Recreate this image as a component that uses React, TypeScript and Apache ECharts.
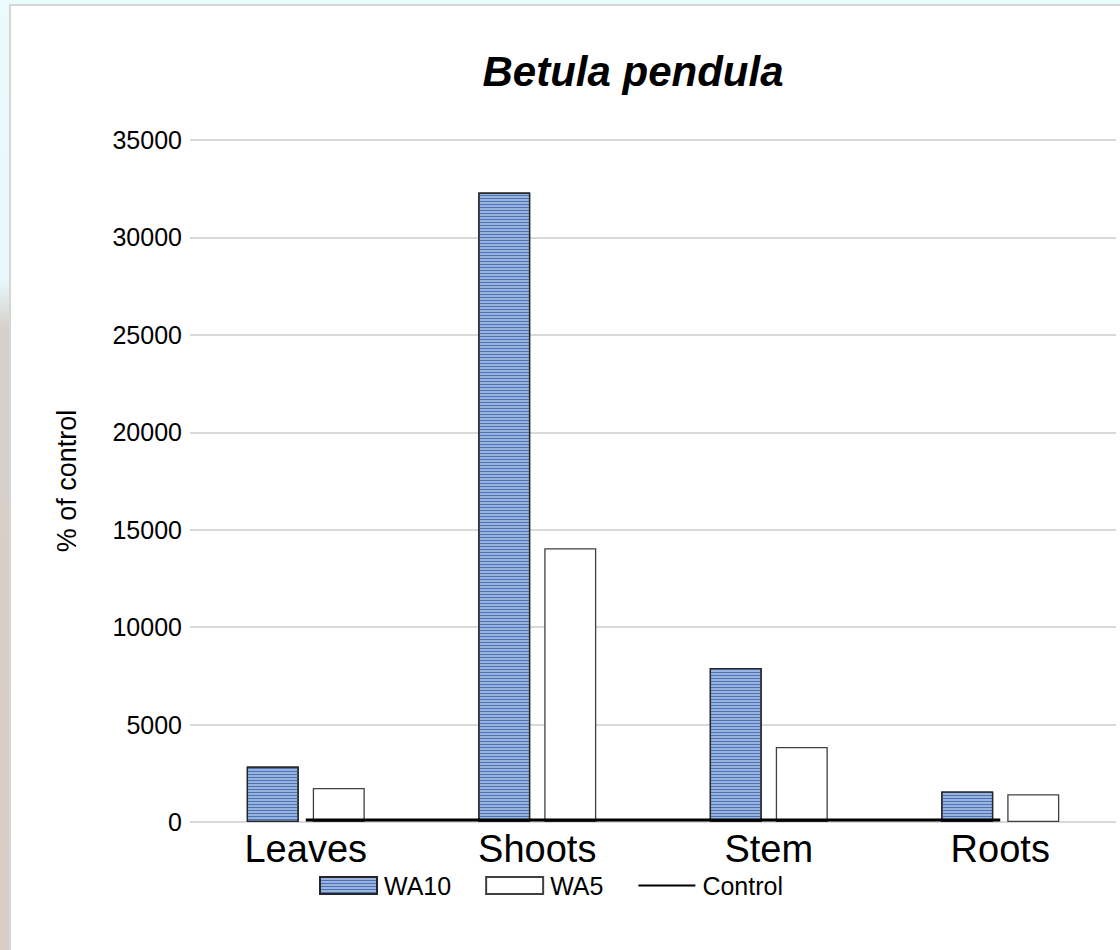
import React, { useEffect, useRef } from "react";
import * as echarts from "echarts";

const categories = ["Leaves", "Shoots", "Stem", "Roots"];
const wa10 = [2850, 32300, 7900, 1570];
const wa5 = [1750, 14050, 3850, 1430];
const control = [100, 100, 100, 100];
const yTicks = [0, 5000, 10000, 15000, 20000, 25000, 30000, 35000];
const chartTitle = "Betula pendula";

export default function App() {
  const ref = useRef<HTMLDivElement>(null);
  useEffect(() => {
    if (!ref.current) return;
    const chart = echarts.init(ref.current, null, { renderer: "svg" });
    const font = "'Liberation Sans', Arial, sans-serif";
    chart.setOption({
      animation: false,
      textStyle: { fontFamily: font },
      title: {
        text: chartTitle,
        left: 628,
        top: 45,
        textAlign: "center",
        textStyle: {
          fontFamily: font,
          fontSize: 42,
          fontWeight: "bold",
          fontStyle: "italic",
          color: "#000",
        },
      },
      legend: {
        left: 319,
        top: 873,
        padding: 0,
        itemWidth: 57,
        itemHeight: 17,
        itemGap: 34,
        textStyle: { fontFamily: font, fontSize: 25, color: "#000", padding: [0, 0, 0, 2] },
        data: [
          { name: "WA10", icon: "rect" },
          { name: "WA5", icon: "rect" },
          {
            name: "Control",
            itemStyle: { color: "rgba(0,0,0,0)", borderWidth: 0, borderColor: "rgba(0,0,0,0)", opacity: 0 },
            lineStyle: { width: 2, color: "#000" },
          },
        ],
      },
      grid: { left: 190, right: 4, top: 140, bottom: 128, containLabel: false },
      xAxis: {
        type: "category",
        data: categories,
        axisLine: { show: false },
        axisTick: { show: false },
        axisLabel: { fontFamily: font, fontSize: 38, color: "#000", margin: 8 },
      },
      yAxis: {
        type: "value",
        min: yTicks[0],
        max: yTicks[yTicks.length - 1],
        interval: yTicks[1] - yTicks[0],
        name: "% of control",
        nameLocation: "middle",
        nameRotate: 90,
        nameGap: 110,
        nameTextStyle: { fontFamily: font, fontSize: 27, color: "#000" },
        axisLine: { show: false },
        axisTick: { show: false },
        axisLabel: {
          fontFamily: font,
          fontSize: 25,
          color: "#000",
          margin: 8,
          formatter: (v: number) => String(v),
        },
        splitLine: { lineStyle: { color: "#d9d9d9", width: 2 } },
      },
      series: [
        {
          name: "WA10",
          type: "bar",
          data: wa10,
          barWidth: 52,
          barGap: "27%",
          itemStyle: {
            color: "#9ab4de",
            borderColor: "#262626",
            borderWidth: 1.3,
            decal: {
              symbol: "rect",
              symbolSize: 1,
              color: "#4a72b6",
              dashArrayX: [8, 0],
              dashArrayY: [1, 1.2],
              rotation: 0,
            },
          },
        },
        {
          name: "WA5",
          type: "bar",
          data: wa5,
          barWidth: 52,
          itemStyle: { color: "#ffffff", borderColor: "#404040", borderWidth: 1.3 },
        },
        {
          name: "Control",
          type: "line",
          data: control,
          symbol: "none",
          z: 5,
          lineStyle: { color: "#000", width: 3 },
          itemStyle: { color: "#000" },
        },
      ],
    });
    return () => chart.dispose();
  }, []);

  return (
    <div
      style={{
        position: "absolute",
        left: 0,
        top: 0,
        width: 1120,
        height: 950,
        overflow: "hidden",
        background: "linear-gradient(to bottom, #e9fbfd 0px, #e6f8fb 280px, #d6cfca 330px, #d9cdc5 950px)",
      }}
    >
      <div
        style={{
          position: "absolute",
          left: 0,
          top: 0,
          width: 1120,
          height: 5,
          background: "#e9fbfd",
        }}
      />
      <div
        style={{
          position: "absolute",
          left: 9,
          top: 4,
          width: 1111,
          height: 946,
          background: "#ffffff",
          borderLeft: "2px solid #d6d6d6",
          borderTop: "2px solid #d6d6d6",
          boxSizing: "border-box",
        }}
      />
      <div ref={ref} style={{ position: "absolute", left: 0, top: 0, width: 1120, height: 950 }} />
    </div>
  );
}
